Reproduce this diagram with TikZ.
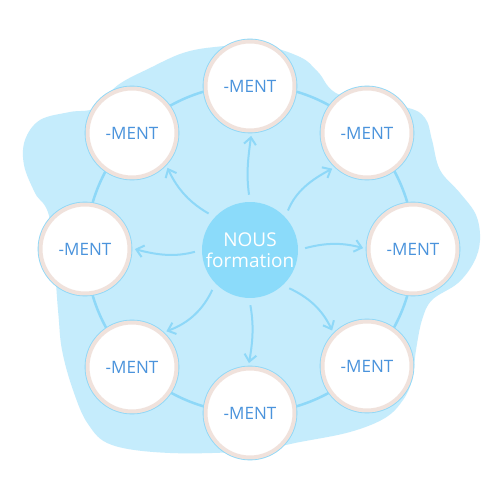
\documentclass[tikz,border=0pt]{standalone}
\usepackage{fontspec}
\setmainfont{Open Sans}
\usetikzlibrary{arrows.meta}
\definecolor{blobblue}{HTML}{C5ECFC}
\definecolor{ringblue}{HTML}{8ED8F8}
\definecolor{hubblue}{HTML}{8BDBFA}
\definecolor{rimpink}{HTML}{F0E2DC}
\definecolor{textblue}{HTML}{4A93DC}
\begin{document}
\begin{tikzpicture}[x=0.02cm,y=0.02cm,
  leaf/.style={circle, fill=white, draw=rimpink, line width=0.08cm, minimum size=1.78cm, inner sep=0pt,
     preaction={draw=ringblue, line width=0.115cm},
     font=\fontsize{9.7}{11.4}\selectfont, text=textblue},
  hub/.style={circle, fill=hubblue, minimum size=1.92cm, inner sep=0pt, text=white, align=center,
     font=\fontsize{10.8}{11.8}\selectfont},
  arr/.style={draw=ringblue, line width=0.04cm, -{Straight Barb[length=0.14cm,width=0.24cm]},
     shorten <=0.14cm, shorten >=0.07cm},
  ringline/.style={draw=ringblue, line width=0.05cm}]
\useasboundingbox (0,0) rectangle (500,500);
\fill[white] (0,0) rectangle (500,500);
% background blob
\fill[blobblue] plot[smooth cycle, tension=0.6] coordinates {
 (150,432) (183,447) (215,453) (260,455) (300,443) (318,428) (340,405) (405,393) (425,382)
 (432,360) (440,330) (460,307) (476,285) (480,260) (474,238) (458,217) (432,200) (422,180)
 (416,150) (412,120) (403,100) (385,82) (350,68) (300,58) (250,49) (170,47) (112,55) (88,76)
 (73,110) (62,150) (58,190) (50,280) (35,307) (24,335) (25,360) (40,380) (70,388) (95,392) (118,415)};
% ring
\draw[ringline] (250,251) circle[radius=164];
% nodes
\node[hub] (c) at (250,250) {NOUS\\formation};
\node[leaf] (n1) at (250,414) {-MENT};
\node[leaf] (n2) at (367,367) {-MENT};
\node[leaf] (n3) at (413,251) {-MENT};
\node[leaf] (n4) at (367,134) {-MENT};
\node[leaf] (n5) at (250,87) {-MENT};
\node[leaf] (n6) at (132,133) {-MENT};
\node[leaf] (n7) at (85,251) {-MENT};
\node[leaf] (n8) at (132,367) {-MENT};
% arrows
\draw[arr] (c.90) to[out=98,in=262] (n1.272);
\draw[arr] (c.43) to[out=68,in=208] (n2.227);
\draw[arr] (c.0) to[out=15,in=165] (n3.180);
\draw[arr] (c.-47) to[out=-25,in=115] (n4.136);
\draw[arr] (c.-91) to[out=-80,in=80] (n5.92);
\draw[arr] (c.-136) to[out=-115,in=20] (n6.48);
\draw[arr] (c.180) to[out=195,in=-15] (n7.1);
\draw[arr] (c.137) to[out=150,in=-65] (n8.-43);
\end{tikzpicture}
\end{document}
